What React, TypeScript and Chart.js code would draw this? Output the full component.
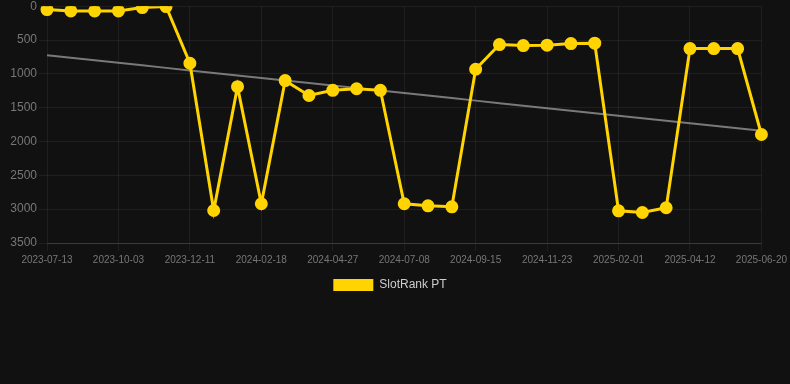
import React, { useEffect, useRef } from "react";
import { Chart, registerables } from "chart.js";

Chart.register(...registerables);

const dates: string[] = [
  "2023-07-13", "2023-08-09", "2023-09-06", "2023-10-03", "2023-10-26", "2023-11-18",
  "2023-12-11", "2024-01-03", "2024-01-26", "2024-02-18", "2024-03-12", "2024-04-04",
  "2024-04-27", "2024-05-21", "2024-06-14", "2024-07-08", "2024-07-31", "2024-08-23",
  "2024-09-15", "2024-10-08", "2024-10-31", "2024-11-23", "2024-12-16", "2025-01-09",
  "2025-02-01", "2025-02-24", "2025-03-19", "2025-04-12", "2025-05-05", "2025-05-28",
  "2025-06-20",
];

const slotRankPT: number[] = [
  50, 70, 70, 70, 20, 5,
  843, 3020, 1190, 2920, 1100, 1320,
  1243, 1220, 1243, 2920, 2950, 2965,
  932, 567, 582, 576, 552, 547,
  3024, 3049, 2979, 626, 626, 626,
  1896,
];

const seriesLabel = "SlotRank PT";
const yTicks = { min: 0, max: 3500, step: 500 };

function linearTrend(values: number[]): number[] {
  const n = values.length;
  const mx = (n - 1) / 2;
  const my = values.reduce((a, b) => a + b, 0) / n;
  let num = 0;
  let den = 0;
  values.forEach((v, i) => {
    num += (i - mx) * (v - my);
    den += (i - mx) * (i - mx);
  });
  const slope = num / den;
  return values.map((_, i) => my + slope * (i - mx));
}

const FONT = "Liberation Sans, Arial, sans-serif";

export default function App() {
  const ref = useRef<HTMLCanvasElement | null>(null);

  useEffect(() => {
    document.body.style.margin = "0";
    document.body.style.background = "#111111";
    if (!ref.current) return;
    const chart = new Chart(ref.current, {
      type: "line",
      data: {
        labels: dates,
        datasets: [
          {
            label: seriesLabel,
            data: slotRankPT,
            borderColor: "#FFD400",
            backgroundColor: "#FFD400",
            borderWidth: 3,
            pointRadius: 5,
            pointHoverRadius: 5,
            pointBackgroundColor: "#FFD400",
            pointBorderColor: "#FFD400",
            tension: 0,
            order: 1,
          },
          {
            label: "trend",
            data: linearTrend(slotRankPT),
            borderColor: "rgba(140,140,140,0.85)",
            backgroundColor: "rgba(140,140,140,0.85)",
            borderWidth: 2,
            pointRadius: 0,
            tension: 0,
            order: 2,
          },
        ],
      },
      options: {
        animation: false,
        responsive: false,
        maintainAspectRatio: false,
        layout: { padding: 0 },
        plugins: {
          legend: {
            position: "bottom",
            labels: {
              color: "#cccccc",
              font: { family: FONT, size: 12 },
              boxWidth: 40,
              boxHeight: 12,
              filter: (item) => item.text.trim() === seriesLabel,
              generateLabels: (c) =>
                Chart.defaults.plugins.legend.labels
                  .generateLabels(c)
                  .map((l) => ({ ...l, lineWidth: 0, text: l.text + "\u00a0\u00a0\u00a0" })),
            },
          },
          tooltip: { enabled: false },
        },
        scales: {
          x: {
            offset: false,
            grid: { color: "rgba(255,255,255,0.06)", drawTicks: true, tickLength: 8 },
            border: { color: "rgba(255,255,255,0.12)" },
            ticks: {
              color: "#777777",
              font: { family: FONT, size: 10 },
              autoSkip: true,
              maxTicksLimit: 11,
              maxRotation: 0,
              minRotation: 0,
            },
          },
          y: {
            reverse: true,
            min: yTicks.min,
            max: yTicks.max,
            afterFit: (scale) => {
              scale.width = 47;
            },
            grid: { color: "rgba(255,255,255,0.06)", drawTicks: true, tickLength: 8 },
            border: { display: false },
            ticks: {
              stepSize: yTicks.step,
              padding: 2,
              color: "#777777",
              font: { family: FONT, size: 12 },
              callback: (v) => String(v),
            },
          },
        },
      },
    });
    return () => chart.destroy();
  }, []);

  return (
    <div style={{ width: 790, height: 384, background: "#111111", overflow: "hidden" }}>
      <canvas
        ref={ref}
        width={790}
        height={304}
        style={{ display: "block", marginTop: -3 }}
      />
    </div>
  );
}
